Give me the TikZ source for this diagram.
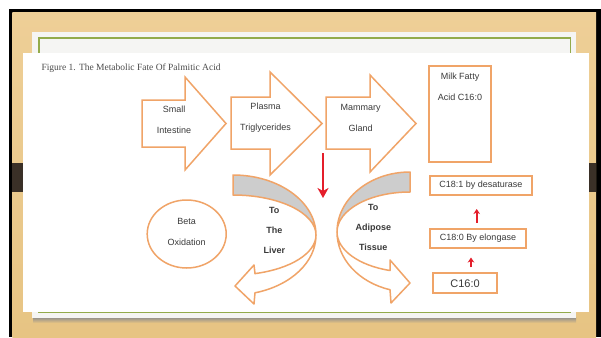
\documentclass[tikz,border=0pt]{standalone}
\usepackage{fontspec}
\setmainfont{Liberation Serif}
\setsansfont{Liberation Sans}
\usepackage{tikz}
\usetikzlibrary{arrows,arrows.meta,calc,positioning,shapes.geometric}
\definecolor{woodtop}{HTML}{EECF97}
\definecolor{woodbot}{HTML}{E7C483}
\definecolor{darkband}{HTML}{3A3027}
\definecolor{panel}{HTML}{F5F5F3}
\definecolor{leafline}{HTML}{93AB4B}
\definecolor{arrowline}{HTML}{F0A468}
\definecolor{arrowred}{HTML}{E41E2B}
\definecolor{backside}{HTML}{CDCDCD}
\definecolor{ink}{HTML}{3A3A3A}
\tikzset{%
	blockarrow/.style = {draw=arrowline, line width=1.5pt, fill=white, line join=miter},
	curvearrow/.style = {draw=arrowline, line width=1.5pt, line join=round},
	txt/.style        = {align=center, text=ink, font=\sffamily\fontsize{9}{21}\selectfont},
	boldtxt/.style    = {txt, font=\sffamily\bfseries\fontsize{9}{20}\selectfont},
	fattybox/.style   = {draw=arrowline, line width=2pt, minimum height=19pt, inner sep=0pt, txt},
	redarrow/.style   = {draw=arrowred, line width=2pt, -{Stealth[length=5pt,width=6.5pt,inset=1.5pt]}},
}

\begin{document}
\begin{tikzpicture}[x=1pt,y=-1pt]
	\useasboundingbox (0,0) rectangle (601,337);
	% slide behind the figure
	\fill[white] (0,0) rectangle (601,337);
	\fill[black] (9,9) rectangle (601,337);
	\shade[top color=woodtop, bottom color=woodbot] (12.3,12.3) rectangle (596,337);
	\fill[darkband] (12.3,163) rectangle (596,192);
	\shade[top color=black!45, bottom color=woodbot] (33,317) rectangle (576,323);
	\fill[panel] (32,32) rectangle (576,318);
	\draw[leafline, line width=1.2pt] (39,38) rectangle (570.7,312.5);
	\fill[white] (23,53) rectangle (589,311.7);
	
	\node[anchor=west, text=black!70, font=\fontsize{9.5}{11}\selectfont] (title) at (38,68) {Figure 1. The Metabolic Fate Of Palmitic Acid};
	
	% the three block arrows
	\foreach \xa/\xb/\xc/\ya/\yb/\ha/\hb in {142/185/226/100/147/77/170, 231/270/322/97/149/72/175, 326/370/416/97/149/75/172}
		\draw[blockarrow] (\xa,\ya) -- (\xb,\ya) -- (\xb,\ha) -- (\xc,{(\ha+\hb)/2}) -- (\xb,\hb) -- (\xb,\yb) -- (\xa,\yb) -- cycle;
	
	\node[txt] (intestine) at (174,120) {Small\\Intestine};
	\node[txt] (plasma) at (265.5,117.5) {Plasma\\Triglycerides};
	\node[txt] (gland) at (360.7,117.5) {Mammary\\Gland};
	
	% milk fat
	\node[draw=arrowline, line width=2pt, minimum width=61.7pt, minimum height=95.7pt] (milk) at (460.2,113.9) {};
	\node[txt] (milktxt) at (460,87) {Milk Fatty\\Acid C16:0};
	
	% to the liver
	\fill[backside] (233,175) .. controls (278.8,175) and (316,201.9) .. (316,235) .. controls (316,212.9) and (278.8,195) .. (233,195) -- cycle;
	\draw[curvearrow] (233,175) .. controls (278.8,175) and (316,201.9) .. (316,235) .. controls (316,212.9) and (278.8,195) .. (233,195) -- cycle;
	\draw[curvearrow, fill=white] (316,235) .. controls (316,262) and (291,285.6) .. (255,292.8) -- (254,304) -- (235,286) -- (254,265) -- (255,273.6) .. controls (291,268.8) and (316,253) .. (316,235) -- cycle;
	\node[boldtxt] (liver) at (274.3,230.7) {To\\The\\Liver};
	
	% to adipose tissue
	\fill[backside] (410,172) .. controls (369.7,172) and (337,198.9) .. (337,232) .. controls (337,209.9) and (369.7,192) .. (410,192) -- cycle;
	\draw[curvearrow] (410,172) .. controls (369.7,172) and (337,198.9) .. (337,232) .. controls (337,209.9) and (369.7,192) .. (410,192) -- cycle;
	\draw[curvearrow, fill=white] (337,232) .. controls (337,258.8) and (358.7,282.4) .. (390,289.7) -- (391,303) -- (410,283) -- (390,260) -- (390,270.5) .. controls (358.7,265.6) and (337,249.8) .. (337,232) -- cycle;
	\node[boldtxt] (adipose) at (373.3,227) {To\\Adipose\\Tissue};
	
	\node[draw=arrowline, line width=1.5pt, ellipse, minimum width=79pt, minimum height=68pt, inner sep=0pt] (beta) at (186.7,234) {};
	\node[txt] (betatxt) at (186.7,232) {Beta\\Oxidation};
	
	\coordinate (droptop) at (323,153);
	\coordinate (dropend) at (323,198);
	\draw[redarrow, line width=2.2pt, -{Stealth[length=10pt,width=11pt,inset=3pt]}] (droptop) -- (dropend);
	
	% chain lengthening
	\node[fattybox, minimum width=101.7pt] (c181) at (480.8,185.5) {C18:1 by desaturase};
	\node[fattybox, minimum width=96pt] (c180) at (478,238) {C18:0 By elongase};
	\node[fattybox, minimum width=64.6pt, minimum height=20pt, font=\sffamily\fontsize{11}{13}\selectfont] (c160) at (465,283.3) {C16:0};
	
	\draw[redarrow, shorten <=5pt, shorten >=9pt] ([xshift=6pt]c160.north) -- ([xshift=-7pt]c180.south);
	\draw[redarrow, shorten <=5pt, shorten >=13pt] ([xshift=-1.3pt]c180.north) -- ([xshift=-4.1pt]c181.south);
\end{tikzpicture}
\end{document}
